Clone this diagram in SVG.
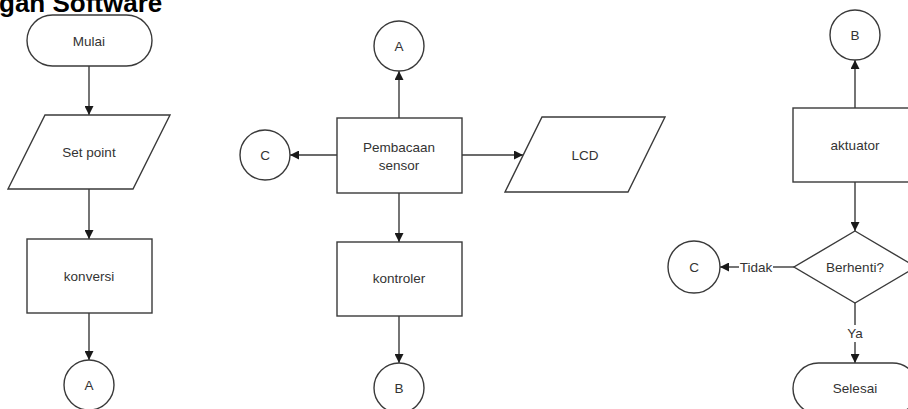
<svg xmlns="http://www.w3.org/2000/svg" width="908" height="409" viewBox="0 0 908 409">
<defs>
<marker id="ah" viewBox="0 0 10 10" refX="10" refY="5" markerWidth="9" markerHeight="9" markerUnits="userSpaceOnUse" orient="auto">
<path d="M0,0 L10,5 L0,10 z" fill="#1a1a1a"/>
</marker>
</defs>
<style>
.s{fill:#fff;stroke:#3a3a3a;stroke-width:1.4}
.t{font-family:"Liberation Sans",Arial,sans-serif;font-size:13.5px;fill:#333;text-anchor:middle;dominant-baseline:central}
.c{fill:none;stroke:#3a3a3a;stroke-width:1.4}
.a{marker-end:url(#ah)}
</style>
<rect width="908" height="409" fill="#fff"/>
<text x="-1" y="12" font-family="Liberation Sans,Arial,sans-serif" font-weight="bold" font-size="26" fill="#000">gan Software</text>
<g id="connectors">
<path class="c a" d="M89,66 V115"/>
<path class="c a" d="M89,189 V239"/>
<path class="c a" d="M89,313 V360"/>
<path class="c a" d="M399,118 V71"/>
<path class="c a" d="M337,155 H290"/>
<path class="c a" d="M462,155 H523"/>
<path class="c a" d="M399,193 V242"/>
<path class="c a" d="M399,316 V363"/>
<path class="c a" d="M855,108 V60"/>
<path class="c a" d="M855,182 V231"/>
<path class="c" d="M794,267 H773"/>
<path class="c a" d="M739,267 H720"/>
<text class="t" x="756" y="267">Tidak</text>
<path class="c" d="M855,303 V325"/>
<path class="c a" d="M855,342 V363"/>
<text class="t" x="855" y="333">Ya</text>
</g>
<g id="mulai"><rect class="s" x="27" y="15" width="125" height="51" rx="25.5"/><text class="t" x="89" y="41">Mulai</text></g>
<g id="setpoint"><path class="s" d="M45,115 H170 L133,189 H8 Z"/><text class="t" x="89" y="152">Set point</text></g>
<g id="konversi"><rect class="s" x="27" y="239" width="125" height="74"/><text class="t" x="89" y="276">konversi</text></g>
<g id="a1"><circle class="s" cx="89" cy="385" r="25"/><text class="t" x="89" y="385">A</text></g>
<g id="a2"><circle class="s" cx="399" cy="46" r="25"/><text class="t" x="399" y="46">A</text></g>
<g id="pembacaan"><rect class="s" x="337" y="118" width="125" height="75"/><text class="t" x="399" y="147">Pembacaan</text><text class="t" x="399" y="165">sensor</text></g>
<g id="c1"><circle class="s" cx="265" cy="155" r="25"/><text class="t" x="265" y="155">C</text></g>
<g id="lcd"><path class="s" d="M542,117 H665 L628,192 H505 Z"/><text class="t" x="585" y="155">LCD</text></g>
<g id="kontroler"><rect class="s" x="337" y="242" width="125" height="74"/><text class="t" x="399" y="278">kontroler</text></g>
<g id="b1"><circle class="s" cx="399" cy="388" r="25"/><text class="t" x="399" y="388">B</text></g>
<g id="b2"><circle class="s" cx="855" cy="35" r="25"/><text class="t" x="855" y="35">B</text></g>
<g id="aktuator"><rect class="s" x="793" y="108" width="125" height="74"/><text class="t" x="855" y="145">aktuator</text></g>
<g id="berhenti"><path class="s" d="M855,231 L916,267 L855,303 L794,267 Z"/><text class="t" x="855" y="267">Berhenti?</text></g>
<g id="c2"><circle class="s" cx="694" cy="267" r="26"/><text class="t" x="694" y="267">C</text></g>
<g id="selesai"><rect class="s" x="793" y="363" width="125" height="51" rx="25.5"/><text class="t" x="855" y="388">Selesai</text></g>
</svg>
